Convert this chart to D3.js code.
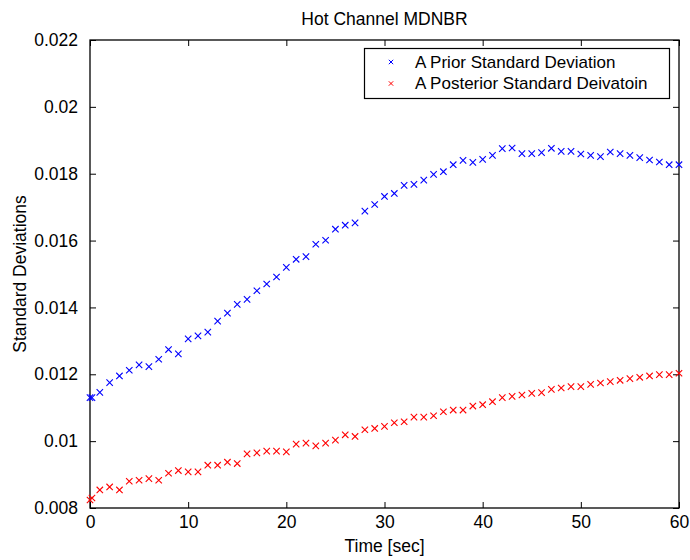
<!DOCTYPE html>
<html>
<head>
<meta charset="utf-8">
<script src="https://cdn.jsdelivr.net/npm/d3@7"></script>
<style>
  html, body { margin: 0; padding: 0; background: #fff; }
  svg { display: block; font-family: "Liberation Sans", Arial, Helvetica, sans-serif; }
</style>
</head>
<body>
<svg id="chart" width="690" height="560"></svg>
<script>
// Sample times [sec]
const times = [0, 0.2, 1, 2, 3, 4, 5, 6, 7, 8, 9, 10, 11, 12, 13, 14, 15, 16, 17, 18, 19, 20,
  21, 22, 23, 24, 25, 26, 27, 28, 29, 30, 31, 32, 33, 34, 35, 36, 37, 38, 39, 40,
  41, 42, 43, 44, 45, 46, 47, 48, 49, 50, 51, 52, 53, 54, 55, 56, 57, 58, 59, 60];

// A priori standard deviation
const priorStd = [0.01130, 0.01130, 0.01146, 0.01175, 0.01195, 0.01212, 0.01228, 0.01223, 0.01245, 0.01274, 0.01261,
  0.01306, 0.01315, 0.01326, 0.01359, 0.01383, 0.01409, 0.01424, 0.01450, 0.01470, 0.01491,
  0.01520, 0.01544, 0.01552, 0.01589, 0.01601, 0.01634, 0.01646, 0.01653, 0.01688, 0.01708,
  0.01732, 0.01741, 0.01765, 0.01768, 0.01781, 0.01798, 0.01806, 0.01827, 0.01840, 0.01834,
  0.01843, 0.01855, 0.01875, 0.01877, 0.01860, 0.01860, 0.01863, 0.01876, 0.01867, 0.01867,
  0.01859, 0.01855, 0.01851, 0.01865, 0.01860, 0.01855, 0.01848, 0.01841, 0.01835, 0.01827, 0.01827];

// A posteriori standard deviation
const posteriorStd = [0.00824, 0.00830, 0.00854, 0.00863, 0.00854, 0.00880, 0.00883, 0.00888, 0.00883, 0.00904, 0.00912,
  0.00908, 0.00908, 0.00928, 0.00928, 0.00937, 0.00933, 0.00962, 0.00965, 0.00970, 0.00970,
  0.00968, 0.00991, 0.00994, 0.00986, 0.00994, 0.01003, 0.01019, 0.01014, 0.01034, 0.01038,
  0.01044, 0.01055, 0.01058, 0.01072, 0.01072, 0.01076, 0.01088, 0.01093, 0.01093, 0.01105,
  0.01109, 0.01118, 0.01130, 0.01134, 0.01138, 0.01143, 0.01145, 0.01155, 0.01159, 0.01163,
  0.01163, 0.01170, 0.01174, 0.01178, 0.01182, 0.01187, 0.01191, 0.01195, 0.01199, 0.01199, 0.01203];

const xTicks = [0, 10, 20, 30, 40, 50, 60];
const yTicks = [0.008, 0.010, 0.012, 0.014, 0.016, 0.018, 0.020, 0.022];
const yTickLabels = ["0.008", "0.01", "0.012", "0.014", "0.016", "0.018", "0.02", "0.022"];

const seriesNames = ["A Prior Standard Deviation", "A Posterior Standard Deivatoin"];
const seriesColors = ["#0000ff", "#ff0000"];

const margin = { left: 90, right: 11, top: 40, bottom: 52 };
const W = 690, H = 560;
const svg = d3.select("#chart");

const x = d3.scaleLinear().domain([0, 60]).range([margin.left, W - margin.right]);
const y = d3.scaleLinear().domain([0.008, 0.022]).range([H - margin.bottom, margin.top]);

const FS = 17.5;
const tickLen = 6;

// Axes with inward ticks on all four sides
const axisStyle = g => {
  g.select(".domain").remove();
  g.selectAll("line").attr("stroke", "#000").attr("stroke-width", 1);
  g.selectAll("text").attr("font-size", FS).attr("fill", "#000")
    .attr("font-family", "'Liberation Sans', Arial, sans-serif");
};

svg.append("g").attr("transform", `translate(0,${y.range()[0]})`)
  .call(d3.axisBottom(x).tickValues(xTicks).tickSize(-tickLen).tickPadding(8).tickFormat(d3.format("d")))
  .call(axisStyle);
svg.append("g").attr("transform", `translate(0,${y.range()[1]})`)
  .call(d3.axisTop(x).tickValues(xTicks).tickSize(-tickLen).tickFormat(""))
  .call(axisStyle);
svg.append("g").attr("transform", `translate(${x.range()[0]},0)`)
  .call(d3.axisLeft(y).tickValues(yTicks).tickSize(-tickLen).tickPadding(12)
    .tickFormat((d, i) => yTickLabels[i]))
  .call(axisStyle);
svg.append("g").attr("transform", `translate(${x.range()[1]},0)`)
  .call(d3.axisRight(y).tickValues(yTicks).tickSize(-tickLen).tickFormat(""))
  .call(axisStyle);

// Plot box
svg.append("rect")
  .attr("x", x.range()[0]).attr("y", y.range()[1])
  .attr("width", x.range()[1] - x.range()[0])
  .attr("height", y.range()[0] - y.range()[1])
  .attr("fill", "none").attr("stroke", "#000").attr("stroke-width", 1.3);

// 'x' marker path
const cross = r => `M${-r},${-r}L${r},${r}M${-r},${r}L${r},${-r}`;

const series = [priorStd, posteriorStd];
series.forEach((vals, si) => {
  svg.append("g").selectAll("path")
    .data(times.map((t, i) => [t, vals[i]]))
    .join("path")
    .attr("transform", d => `translate(${x(d[0])},${y(d[1])})`)
    .attr("d", cross(3.2))
    .attr("stroke", seriesColors[si])
    .attr("stroke-width", 1.1)
    .attr("fill", "none");
});

// Legend
const leg = svg.append("g");
leg.append("rect")
  .attr("x", 364.5).attr("y", 48.5).attr("width", 305).attr("height", 50)
  .attr("fill", "#fff").attr("stroke", "#000").attr("stroke-width", 1.2);
seriesNames.forEach((name, i) => {
  const cy = 62 + i * 21.5;
  leg.append("path")
    .attr("transform", `translate(391,${cy})`)
    .attr("d", cross(2.2))
    .attr("stroke", seriesColors[i]).attr("stroke-width", 1).attr("fill", "none");
  leg.append("text")
    .attr("x", 415).attr("y", cy).attr("dy", "0.35em")
    .attr("font-size", FS - 0.5).attr("fill", "#000")
    .text(name);
});

// Title and axis labels
svg.append("text")
  .attr("x", (x.range()[0] + x.range()[1]) / 2).attr("y", 25)
  .attr("text-anchor", "middle").attr("font-size", FS)
  .text("Hot Channel MDNBR");

svg.append("text")
  .attr("x", (x.range()[0] + x.range()[1]) / 2).attr("y", 552)
  .attr("text-anchor", "middle").attr("font-size", FS)
  .text("Time [sec]");

svg.append("text")
  .attr("transform", `translate(26,${(y.range()[0] + y.range()[1]) / 2}) rotate(-90)`)
  .attr("text-anchor", "middle").attr("font-size", FS)
  .text("Standard Deviations");
</script>
</body>
</html>
